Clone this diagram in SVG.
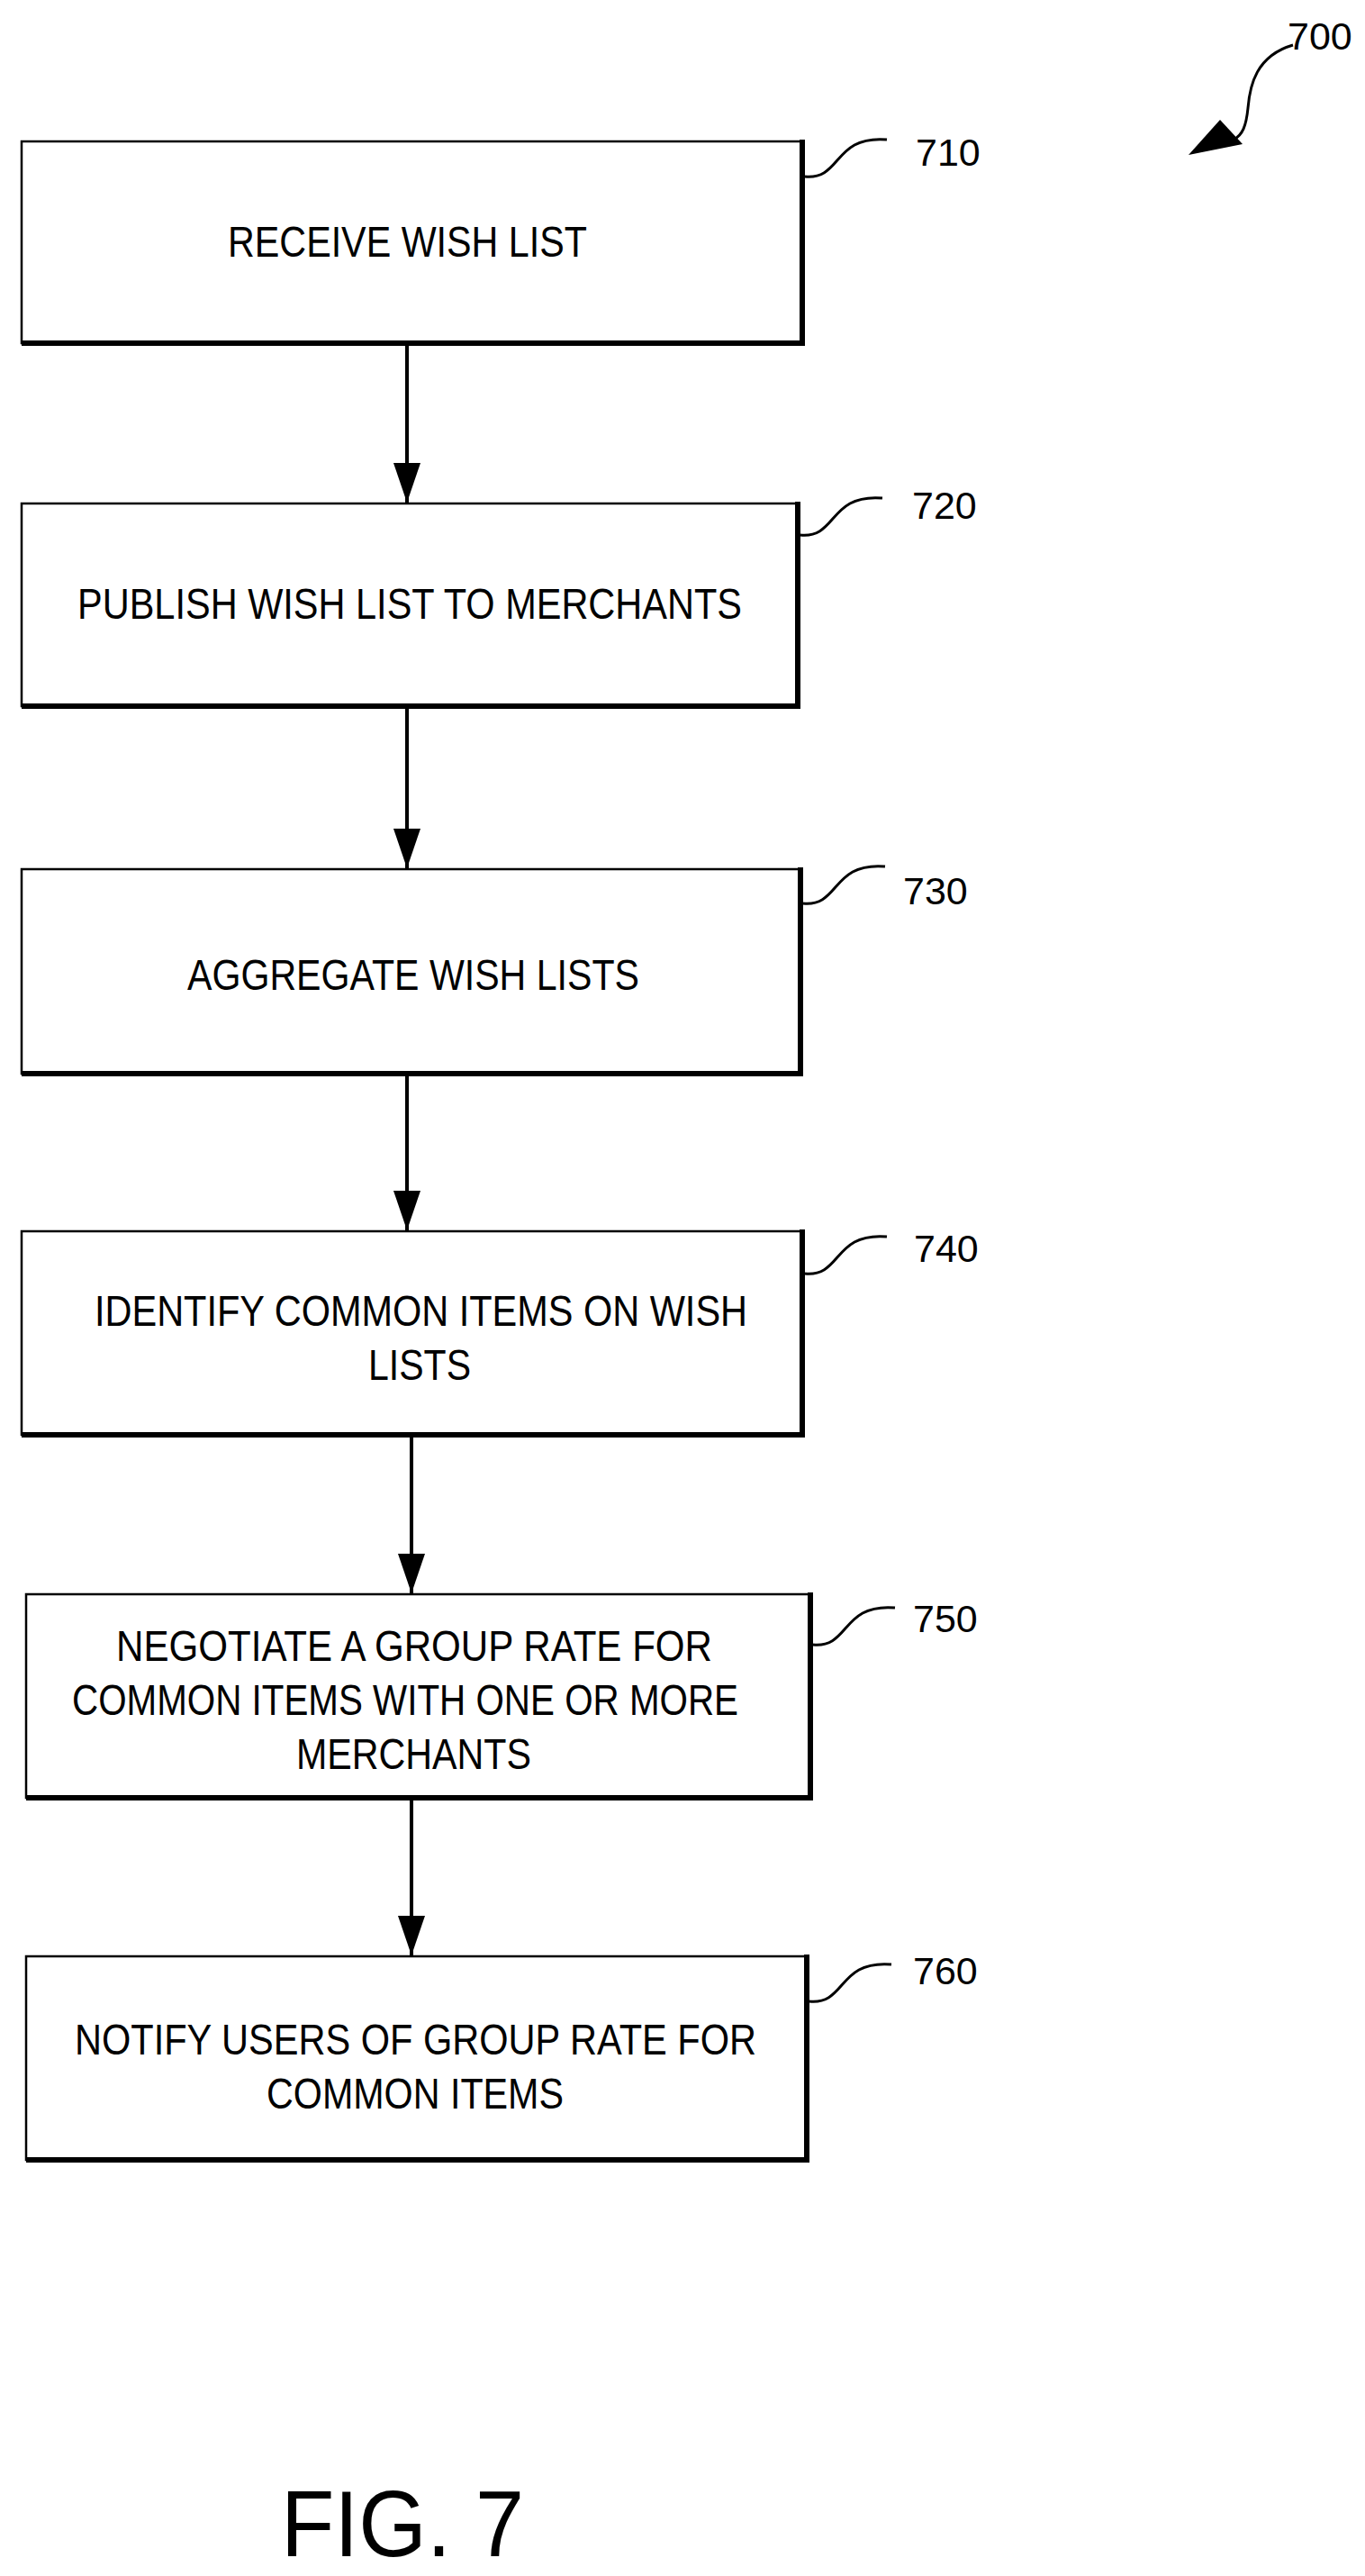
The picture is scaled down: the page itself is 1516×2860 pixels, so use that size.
<svg xmlns="http://www.w3.org/2000/svg" width="1516" height="2860" viewBox="0 0 1516 2860">
<style>
.box{fill:#fff;stroke:#000;stroke-width:2.5}
.sh{fill:none;stroke:#000;stroke-width:6}
.t{font-family:"Liberation Sans",Arial,sans-serif;font-size:48px;fill:#000;text-anchor:start}
.lbl{font-family:"Liberation Sans",Arial,sans-serif;font-size:43px;fill:#000}
.ld{fill:none;stroke:#000;stroke-width:3}
.c{stroke:#000;stroke-width:4;fill:none}
</style>
<defs>
<marker id="ah" markerWidth="44" markerHeight="30" refX="44" refY="15" orient="auto" markerUnits="userSpaceOnUse" viewBox="0 0 44 30">
<path d="M0,0 L44,15 L0,30 Z" fill="#000"/>
</marker>
</defs>
<rect width="1516" height="2860" fill="#fff"/>
<g id="connectors">
<line class="c" x1="452" y1="384" x2="452" y2="558" marker-end="url(#ah)"/>
<line class="c" x1="452" y1="787" x2="452" y2="964" marker-end="url(#ah)"/>
<line class="c" x1="452" y1="1195" x2="452" y2="1366" marker-end="url(#ah)"/>
<line class="c" x1="457" y1="1596" x2="457" y2="1769" marker-end="url(#ah)"/>
<line class="c" x1="457" y1="1999" x2="457" y2="2171" marker-end="url(#ah)"/>
</g>
<g id="n710">
<rect class="box" x="24" y="157" width="867" height="224"/>
<path class="sh" d="M891 155 V381 H24"/>
<text class="t" x="253" y="285" textLength="399" lengthAdjust="spacingAndGlyphs">RECEIVE WISH LIST</text>
<path class="ld" d="M894 196 C935 200 925 150 985 155"/>
<text class="lbl" x="1017" y="184">710</text>
</g>
<g id="n720">
<rect class="box" x="24" y="559" width="862" height="225"/>
<path class="sh" d="M886 557 V784 H24"/>
<text class="t" x="86" y="687" textLength="738" lengthAdjust="spacingAndGlyphs">PUBLISH WISH LIST TO MERCHANTS</text>
<path class="ld" d="M889 594 C930 598 920 548 980 553"/>
<text class="lbl" x="1013" y="576">720</text>
</g>
<g id="n730">
<rect class="box" x="24" y="965" width="865" height="227"/>
<path class="sh" d="M889 963 V1192 H24"/>
<text class="t" x="208" y="1099" textLength="502" lengthAdjust="spacingAndGlyphs">AGGREGATE WISH LISTS</text>
<path class="ld" d="M892 1003 C933 1007 923 957 983 962"/>
<text class="lbl" x="1003" y="1004">730</text>
</g>
<g id="n740">
<rect class="box" x="24" y="1367" width="867" height="226"/>
<path class="sh" d="M891 1365 V1593 H24"/>
<text class="t" x="105" y="1472" textLength="725" lengthAdjust="spacingAndGlyphs">IDENTIFY COMMON ITEMS ON WISH</text>
<text class="t" x="409" y="1532" textLength="114" lengthAdjust="spacingAndGlyphs">LISTS</text>
<path class="ld" d="M894 1414 C935 1418 925 1368 985 1373"/>
<text class="lbl" x="1015" y="1401">740</text>
</g>
<g id="n750">
<rect class="box" x="29" y="1770" width="871" height="226"/>
<path class="sh" d="M900 1768 V1996 H29"/>
<text class="t" x="129" y="1844" textLength="662" lengthAdjust="spacingAndGlyphs">NEGOTIATE A GROUP RATE FOR</text>
<text class="t" x="80" y="1904" textLength="740" lengthAdjust="spacingAndGlyphs">COMMON ITEMS WITH ONE OR MORE</text>
<text class="t" x="329" y="1964" textLength="261" lengthAdjust="spacingAndGlyphs">MERCHANTS</text>
<path class="ld" d="M903 1826 C944 1830 934 1780 994 1785"/>
<text class="lbl" x="1014" y="1812">750</text>
</g>
<g id="n760">
<rect class="box" x="29" y="2172" width="867" height="226"/>
<path class="sh" d="M896 2170 V2398 H29"/>
<text class="t" x="83" y="2281" textLength="757" lengthAdjust="spacingAndGlyphs">NOTIFY USERS OF GROUP RATE FOR</text>
<text class="t" x="296" y="2341" textLength="330" lengthAdjust="spacingAndGlyphs">COMMON ITEMS</text>
<path class="ld" d="M899 2222 C940 2226 930 2176 990 2181"/>
<text class="lbl" x="1014" y="2203">760</text>
</g>
<g id="ref700">
<path class="ld" d="M1436 50 C1395 62 1388 95 1386 120 C1384 140 1380 150 1370 155"/>
<path d="M1320 172 L1355 133 L1380 160 Z" fill="#000"/>
<text class="lbl" x="1430" y="55">700</text>
</g>
<text x="312" y="2838" font-family="'Liberation Sans',Arial,sans-serif" font-size="104" fill="#000" textLength="270" lengthAdjust="spacingAndGlyphs">FIG. 7</text>
</svg>
